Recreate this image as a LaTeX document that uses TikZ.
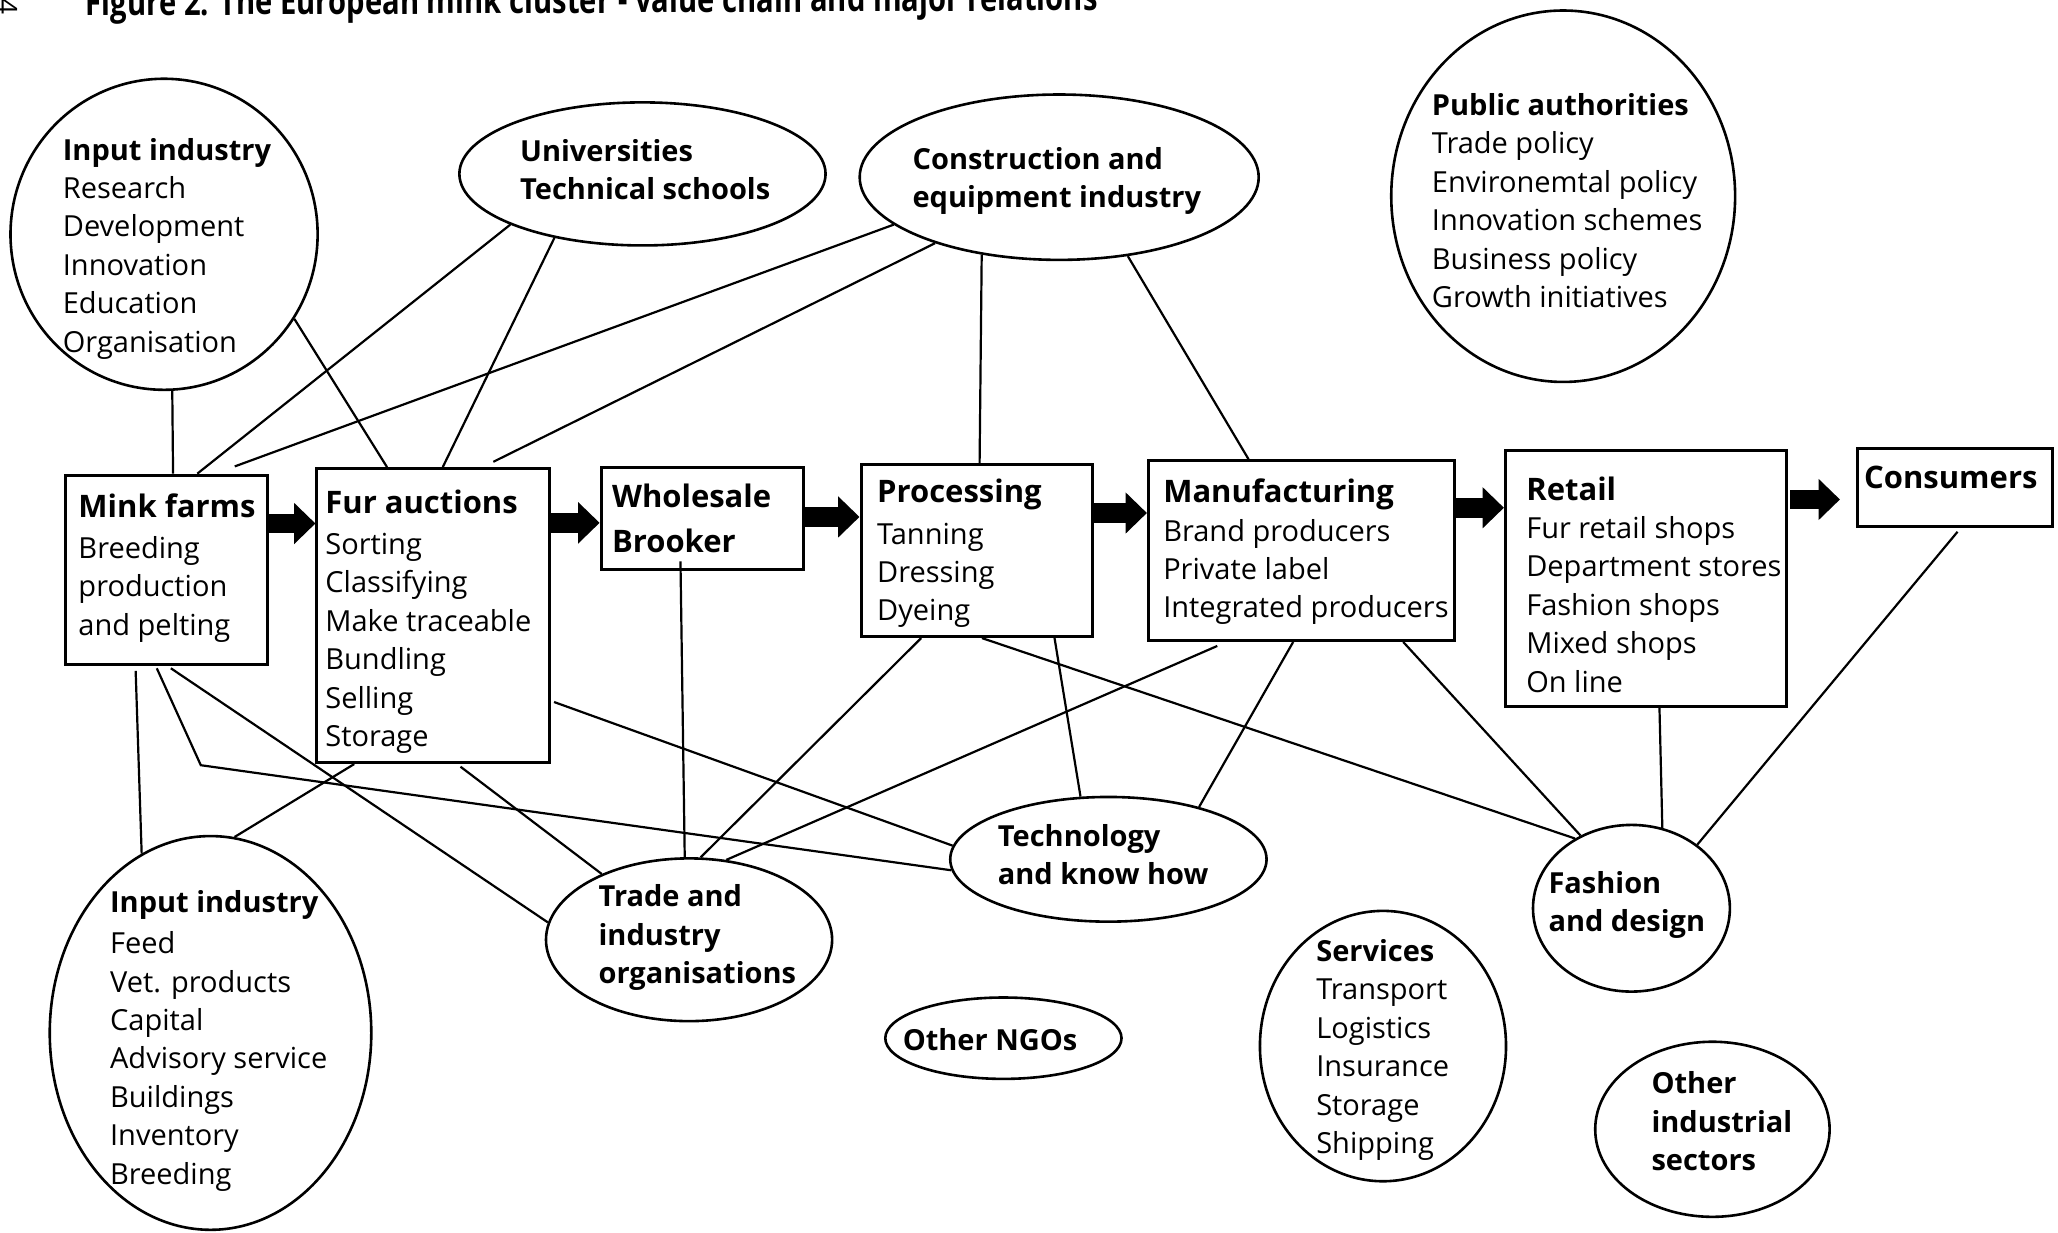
\documentclass[tikz,border=0pt]{standalone}
\usepackage{fontspec}
\setmainfont{Open Sans}
\usepackage{graphicx}
\usetikzlibrary{shapes.geometric,arrows.meta,calc}
\newcommand{\pxu}{0.65625pt}
\begin{document}
\begin{tikzpicture}[x=0.65625pt,y=-0.65625pt,
  box/.style={draw, line width=1.5pt, rectangle, inner sep=0pt},
  oval/.style={draw, line width=1.3pt, ellipse, inner sep=0pt},
  txt/.style={inner sep=0pt, anchor=base west, font=\fontsize{14.5}{19.2}\selectfont},
  link/.style={line width=1.1pt},
  blockarrow/.style={line width=9.8pt, -{Triangle[width=20pt,length=10.7pt]}},
]
\useasboundingbox (0,0) rectangle (1568,939);
\clip (0,0) rectangle (1568,939);

% title (cut by the page edge)
\node[anchor=base west, inner sep=0pt, rotate=0.3] (title) at (65,12)
  {\resizebox{506pt}{14pt}{\bfseries Figure 2. The European mink cluster - value chain and major relations}};
\node[rotate=-90, inner sep=0pt, font=\fontsize{14}{14}\selectfont] (pagenum) at (6,5) {4};

% shapes
\node[oval, minimum width=234*\pxu, minimum height=237*\pxu] (inTop) at (125,178.5) {};
\node[oval, minimum width=279*\pxu, minimum height=109*\pxu] (univ) at (489.5,132.5) {};
\node[oval, minimum width=304*\pxu, minimum height=126*\pxu] (constr) at (807,135) {};
\node[oval, minimum width=262*\pxu, minimum height=283*\pxu] (pub) at (1191,149.5) {};
\node[box, minimum width=154*\pxu, minimum height=144*\pxu] (mink) at (127,434) {};
\node[box, minimum width=177.5*\pxu, minimum height=224*\pxu] (fur) at (330.25,469) {};
\node[box, minimum width=154*\pxu, minimum height=78*\pxu] (whole) at (535,395) {};
\node[box, minimum width=176*\pxu, minimum height=131*\pxu] (proc) at (744,419.5) {};
\node[box, minimum width=233*\pxu, minimum height=137*\pxu] (manu) at (991.5,419.5) {};
\node[box, minimum width=214.5*\pxu, minimum height=194.5*\pxu] (retail) at (1254.25,440.75) {};
\node[box, minimum width=148.2*\pxu, minimum height=59.3*\pxu] (cons) at (1489.7,371.35) {};
\node[oval, minimum width=241*\pxu, minimum height=95*\pxu] (tech) at (844.5,654.7) {};
\node[oval, minimum width=218*\pxu, minimum height=124*\pxu] (trade) at (525,716) {};
\node[oval, minimum width=245*\pxu, minimum height=300*\pxu] (inBot) at (160.4,787) {};
\node[oval, minimum width=180*\pxu, minimum height=62*\pxu] (ngo) at (764.5,791) {};
\node[oval, minimum width=187.5*\pxu, minimum height=206*\pxu] (serv) at (1053.7,797) {};
\node[oval, minimum width=150*\pxu, minimum height=127*\pxu] (fash) at (1243,692) {};
\node[oval, minimum width=178.6*\pxu, minimum height=133.4*\pxu] (other) at (1304.7,860.4) {};

% texts
\node[txt] (tInTop) at (47.6,122) {\begin{tabular}[t]{@{}l@{}}\textbf{Input industry}\\Research\\Development\\Innovation\\Education\\Organisation\end{tabular}};
\node[txt] (tUniv) at (396,123) {\begin{tabular}[t]{@{}l@{}}\textbf{Universities}\\\textbf{Technical schools}\end{tabular}};
\node[txt] (tConstr) at (695,129) {\begin{tabular}[t]{@{}l@{}}\textbf{Construction and}\\\textbf{equipment industry}\end{tabular}};
\node[txt] (tPub) at (1090.7,88) {\begin{tabular}[t]{@{}l@{}}\textbf{Public authorities}\\Trade policy\\Environemtal policy\\Innovation schemes\\Business policy\\Growth initiatives\end{tabular}};
\node[txt] (tMink) at (59.5,394) {\begin{tabular}[t]{@{}l@{}}\textbf{\fontsize{15.5}{19.2}\selectfont Mink farms}\\[1.5pt]Breeding\\production\\and pelting\end{tabular}};
\node[txt] (tFur) at (247.6,391) {\begin{tabular}[t]{@{}l@{}}\textbf{\fontsize{15.5}{19.2}\selectfont Fur auctions}\\[1.5pt]Sorting\\Classifying\\Make traceable\\Bundling\\Selling\\Storage\end{tabular}};
\node[txt] (tWhole) at (466,387) {\begin{tabular}[t]{@{}l@{}}\textbf{\fontsize{15.5}{19.2}\selectfont Wholesale}\\[3pt]\textbf{\fontsize{15.5}{19.2}\selectfont Brooker}\end{tabular}};
\node[txt] (tProc) at (668,383) {\begin{tabular}[t]{@{}l@{}}\textbf{\fontsize{15.5}{19.2}\selectfont Processing}\\[1.5pt]Tanning\\Dressing\\Dyeing\end{tabular}};
\node[txt] (tManu) at (886,383) {\begin{tabular}[t]{@{}l@{}}\textbf{\fontsize{15.5}{19.2}\selectfont Manufacturing}\\Brand producers\\Private label\\Integrated producers\end{tabular}};
\node[txt] (tRetail) at (1162.6,381) {\begin{tabular}[t]{@{}l@{}}\textbf{\fontsize{15.5}{19.2}\selectfont Retail}\\Fur retail shops\\Department stores\\Fashion shops\\Mixed shops\\On line\end{tabular}};
\node[txt] (tCons) at (1420,372) {\textbf{\fontsize{15.5}{19.2}\selectfont Consumers}};
\node[txt] (tTech) at (760,645) {\begin{tabular}[t]{@{}l@{}}\textbf{Technology}\\\textbf{and know how}\end{tabular}};
\node[txt] (tTrade) at (455.8,690.8) {\begin{tabular}[t]{@{}l@{}}\textbf{Trade and}\\\textbf{industry}\\\textbf{organisations}\end{tabular}};
\node[txt] (tInBot) at (83.6,695) {\begin{tabular}[t]{@{}l@{}}\textbf{Input industry}\\[1.5pt]Feed\\Vet. products\\Capital\\Advisory service\\Buildings\\Inventory\\Breeding\end{tabular}};
\node[txt] (tNgo) at (687.5,800) {\textbf{Other NGOs}};
\node[txt] (tServ) at (1002.6,732.6) {\begin{tabular}[t]{@{}l@{}}\textbf{Services}\\Transport\\Logistics\\Insurance\\Storage\\Shipping\end{tabular}};
\node[txt] (tFash) at (1179.5,680.6) {\begin{tabular}[t]{@{}l@{}}\textbf{Fashion}\\\textbf{and design}\end{tabular}};
\node[txt] (tOther) at (1258,833.5) {\begin{tabular}[t]{@{}l@{}}\textbf{Other}\\\textbf{industrial}\\\textbf{sectors}\end{tabular}};

% value chain arrows
\coordinate (a1) at ($(mink.north east)+(0,38)$);
\coordinate (a2) at ($(fur.north east)+(0,42.5)$);
\coordinate (a3) at ($(whole.north east)+(0,39)$);
\coordinate (a4) at ($(proc.north east)+(0,38)$);
\coordinate (a5) at ($(manu.north east)+(0,37)$);
\coordinate (a6) at ($(retail.north east)+(1.5,38.2)$);
\draw[blockarrow] (a1) -- (a1 -| fur.west);
\draw[blockarrow] (a2) -- (a2 -| whole.west);
\draw[blockarrow] (a3) -- (a3 -| proc.west);
\draw[blockarrow] (a4) -- (a4 -| manu.west);
\draw[blockarrow] (a5) -- (a5 -| retail.west);
\draw[blockarrow] (a6) -- ($(a6 -| cons.west)+(-12.6,0)$);

% relations
\draw[link] (inTop.-87) -- ($(mink.north west)+(83,0)$);
\draw[link] (inTop.-33) -- ($(fur.north west)+(54.5,0)$);
\draw[link] (univ.-159) -- ($(mink.north west)+(101.5,0)$);
\draw[link] (univ.-144) -- ($(fur.north west)+(97,0)$);
\draw[link] (constr.-164) -- ($(mink.north west)+(130,-5.5)$);
\draw[link] (constr.-152) -- ($(fur.north west)+(135.5,-4)$);
\draw[link] (constr.-135.5) -- ($(proc.north west)+(91.5,0)$);
\draw[link] (constr.-49) -- ($(manu.north west)+(77.4,0)$);
\draw[link] ($(whole.south west)+(61.6,-7.4)$) -- (trade.93);
\draw[link] ($(proc.south west)+(47,0)$) -- (trade.82);
\draw[link] ($(manu.south west)+(53.6,3)$) -- (trade.65.5);
\draw[link] ($(proc.south west)+(93.3,0)$) -- (fash.129);
\draw[link] ($(proc.south west)+(148.6,0)$) -- (tech.114);
\draw[link] ($(manu.south west)+(111.4,0)$) -- (tech.30);
\draw[link] ($(manu.south west)+(195.3,0)$) -- (fash.125);
\draw[link] ($(retail.south west)+(118.5,0)$) -- (fash.69);
\draw[link] ($(cons.south west)+(77,3)$) -- (fash.44);
\draw[link] ($(fur.north east)+(2,179)$) -- (tech.175);
\coordinate (bend) at (153,583);
\draw[link] ($(mink.south west)+(70.6,2)$) -- (bend) -- (tech.184);
\draw[link] ($(mink.south west)+(81.3,2)$) -- (trade.173);
\draw[link] ($(mink.south west)+(54.5,4)$) -- (inBot.111.5);
\draw[link] ($(fur.south west)+(29.5,0)$) -- (inBot.83);
\draw[link] ($(fur.south west)+(110.5,2)$) -- (trade.143);
\end{tikzpicture}
\end{document}
